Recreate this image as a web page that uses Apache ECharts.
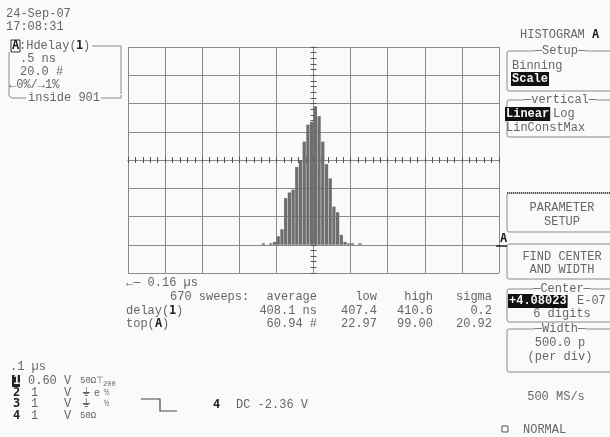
<!DOCTYPE html>
<html><head><meta charset="utf-8">
<script src="https://cdn.jsdelivr.net/npm/echarts@6/dist/echarts.min.js"></script>
<style>html,body{margin:0;padding:0;background:#fafafa}#c{width:610px;height:437px}</style>
</head><body><div id="c"></div>
<script>
// ---- data ----
const binCount = 100;              // histogram bins across 10 divisions
const binStart = 36;               // first populated bin index
const binCounts = [1,0,1,2,6,11,33,37,39,55,60,73,85,87,98,91,73,57,47,27,23,7,2,1,1,0,1];
const xDivTicks = [0,1,2,3,4,5,6,7,8,9,10];
const yCountMin = -20, yCountMax = 140;   // 20 # per div, baseline one div above bottom

const statsHeader = ['average','low','high','sigma'];
const delayStats = ['408.1 ns','407.4','410.6','0.2'];
const topStats = ['60.94 #','22.97','99.00','20.92'];

// ---- build ----
const binLabels = [];
const barData = [];
for (let i = 0; i < binCount; i++) {
  binLabels.push(String(i));
  const k = i - binStart;
  barData.push(k >= 0 && k < binCounts.length ? binCounts[k] : 0);
}

const FAM = '"Liberation Mono"';
const FONT = '12px ' + FAM;
const INK = '#666666';
const LINE = '#8a8a8a';
const G = [];
function T(x, y, text, o) {
  o = o || {};
  G.push({type:'text', x:x, y:y, z:10, style:{text:text, fill:o.fill||INK, font:o.font||FONT,
    align:o.align||'left', verticalAlign:'middle', textAlign:o.align||'left', textVerticalAlign:'middle',
    backgroundColor:o.bg, padding:o.pad}});
}
function R(x, y, w, h, o) {
  o = o || {};
  G.push({type:'rect', z:5, shape:{x:x, y:y, width:w, height:h, r:o.r||0},
    style:{fill:o.fill||'none', stroke:o.stroke||null, lineWidth:o.lw||1, lineDash:o.dash}});
}
function P(pts, o) {
  o = o || {};
  G.push({type:'polyline', z:5, shape:{points:pts}, style:{stroke:o.stroke||LINE, lineWidth:o.lw||1, fill:'none', lineDash:o.dash}});
}
function INV(x, y, text) {
  const w = text.length * 7.2 + 2;
  R(x - 1, y - 7, w, 14, {fill:'#111'});
  T(x, y, text, {fill:'#f4f4f4', font:'bold ' + FONT});
}
const BOLD = 'bold 12px "DejaVu Sans Mono"';

// left top
T(6, 14, '24-Sep-07');
T(6, 27, '17:08:31');
R(11, 40, 9, 12, {stroke:'#333'});
T(12, 46, 'A', {font:BOLD, fill:'#222'});
T(19, 46, ':Hdelay(');
T(76, 46, '1', {font:BOLD, fill:'#222'});
T(83, 46, ')');
P([[92, 46], [121, 46], [121, 94]]);
P([[9, 52], [9, 96], [12, 98], [26, 98]]);
P([[101, 98], [121, 98], [121, 95]]);
T(20, 59, '.5 ns');
T(20, 72, '20.0 #');
T(9, 85, '\u21900%/\u21921%');
T(28, 98, 'inside 901');

// below grid
T(126, 283, '\u2190\u2500 0.16 \u00b5s');
T(170, 297, '670 sweeps:');
const colRight = [317, 377, 433, 492];
statsHeader.forEach((s, i) => T(colRight[i], 297, s, {align:'right'}));
T(126, 311, 'delay(');
T(169, 311, '1', {font:BOLD, fill:'#222'});
T(176, 311, ')');
delayStats.forEach((s, i) => T(colRight[i], 311, s, {align:'right'}));
T(126, 324, 'top(');
T(155, 324, 'A', {font:BOLD, fill:'#222'});
T(162, 324, ')');
topStats.forEach((s, i) => T(colRight[i], 324, s, {align:'right'}));

// bottom left channel info
T(10, 367, '.1 \u00b5s');
R(12, 375, 8, 12, {fill:'#222'});
T(13, 381, '1', {fill:'#f4f4f4', font:BOLD});
T(28, 381, '0.60 V');
T(80, 381, '50\u03a9', {font:'9px ' + FAM});
T(96, 381, '\u22a4', {font:'9px ' + FAM});
T(103, 384, '200', {font:'7px ' + FAM});
T(13, 393, '2', {font:BOLD, fill:'#222'});
T(31, 393, '1');
T(64, 393, 'V');
T(82, 393, '\u23da', {font:'12px "DejaVu Sans Mono"'});
T(94, 393, 'e', {font:'10px ' + FAM});
T(104, 393, '\u00bd', {font:'9px ' + FAM});
T(13, 404, '3', {font:BOLD, fill:'#222'});
T(31, 404, '1');
T(64, 404, 'V');
T(82, 404, '\u23da', {font:'12px "DejaVu Sans Mono"'});
T(104, 404, '\u00bd', {font:'9px ' + FAM});
T(13, 416, '4', {font:BOLD, fill:'#222'});
T(31, 416, '1');
T(64, 416, 'V');
T(80, 416, '50\u03a9', {font:'9px ' + FAM});
P([[141, 399], [160, 399], [160, 411], [177, 411]], {stroke:'#444', lw:1.2});
T(213, 405, '4', {font:BOLD, fill:'#222'});
T(236, 405, 'DC -2.36 V');

// right panel
T(520, 35, 'HISTOGRAM');
T(592, 35, 'A', {font:BOLD, fill:'#222'});
R(507, 51, 110, 40, {stroke:LINE, r:2});
T(560, 51, '\u2500Setup\u2500', {align:'center', bg:'#fafafa'});
T(512, 66, 'Binning');
INV(512, 79, 'Scale');
R(507, 100, 110, 37, {stroke:LINE, r:2});
T(560, 100, '\u2500vertical\u2500', {align:'center', bg:'#fafafa'});
INV(506, 114, 'Linear');
T(553, 114, 'Log');
T(506, 128, 'LinConstMax');
R(507, 193, 110, 39, {stroke:LINE, r:2});
P([[507, 193], [617, 193]], {stroke:'#555', lw:2, dash:[1, 1]});
T(562, 208, 'PARAMETER', {align:'center'});
T(562, 222, 'SETUP', {align:'center'});
R(507, 244, 110, 35, {stroke:LINE, r:2});
T(562, 257, 'FIND CENTER', {align:'center'});
T(562, 270, 'AND WIDTH', {align:'center'});
R(507, 289, 110, 33, {stroke:LINE, r:2});
T(562, 289, '\u2500Center\u2500', {align:'center', bg:'#fafafa'});
INV(509, 301, '+4.08023');
T(577, 301, 'E-07');
T(562, 314, '6 digits', {align:'center'});
R(507, 329, 110, 43, {stroke:LINE, r:2});
T(560, 329, '\u2500Width\u2500', {align:'center', bg:'#fafafa'});
T(560, 343, '500.0 p', {align:'center'});
T(560, 357, '(per div)', {align:'center'});
T(556, 397, '500 MS/s', {align:'center'});
R(502, 426, 6, 6, {stroke:'#555'});
T(523, 430, 'NORMAL');
// trace marker
T(500, 239, 'A', {font:BOLD, fill:'#222'});
P([[496, 246], [507, 246]], {stroke:'#222', lw:1.5});

const tickAxisX = (inside) => ({type:'value', min:0, max:10, interval:1, position:'bottom', offset:-113,
  axisLine:{show:true, lineStyle:{color:LINE}}, axisTick:{show:true, inside:inside, length:3, lineStyle:{color:'#555'}},
  minorTick:{show:true, splitNumber:5, length:3, lineStyle:{color:'#555'}}, axisLabel:{show:false}, splitLine:{show:false}});
const tickAxisY = (inside) => ({type:'value', min:0, max:8, interval:1, position:'left', offset:-185.5,
  axisLine:{show:true, lineStyle:{color:LINE}}, axisTick:{show:true, inside:inside, length:3, lineStyle:{color:'#555'}},
  minorTick:{show:true, splitNumber:5, length:3, lineStyle:{color:'#555'}}, axisLabel:{show:false}, splitLine:{show:false}});

const chart = echarts.init(document.getElementById('c'), null, {renderer:'canvas'});
chart.setOption({
  animation:false,
  backgroundColor:'#fafafa',
  grid:{left:128, top:47, width:371, height:226},
  xAxis:[
    {type:'category', data:binLabels, boundaryGap:true, show:false},
    {type:'value', min:xDivTicks[0], max:xDivTicks[xDivTicks.length-1], interval:1,
      axisLine:{show:false}, axisTick:{show:false}, axisLabel:{show:false},
      splitLine:{show:true, lineStyle:{color:LINE, width:1}}},
    tickAxisX(false), tickAxisX(true)
  ],
  yAxis:[
    {type:'value', min:yCountMin, max:yCountMax, interval:20, show:false, splitLine:{show:false}},
    {type:'value', min:0, max:8, interval:1, axisLine:{show:false}, axisTick:{show:false}, axisLabel:{show:false},
      splitLine:{show:true, lineStyle:{color:LINE, width:1}}},
    tickAxisY(false), tickAxisY(true)
  ],
  series:[{type:'bar', xAxisIndex:0, yAxisIndex:0, data:barData, barCategoryGap:'12%',
    itemStyle:{color:'#6e6e6e'}, silent:true}],
  graphic:G
});
</script></body></html>
